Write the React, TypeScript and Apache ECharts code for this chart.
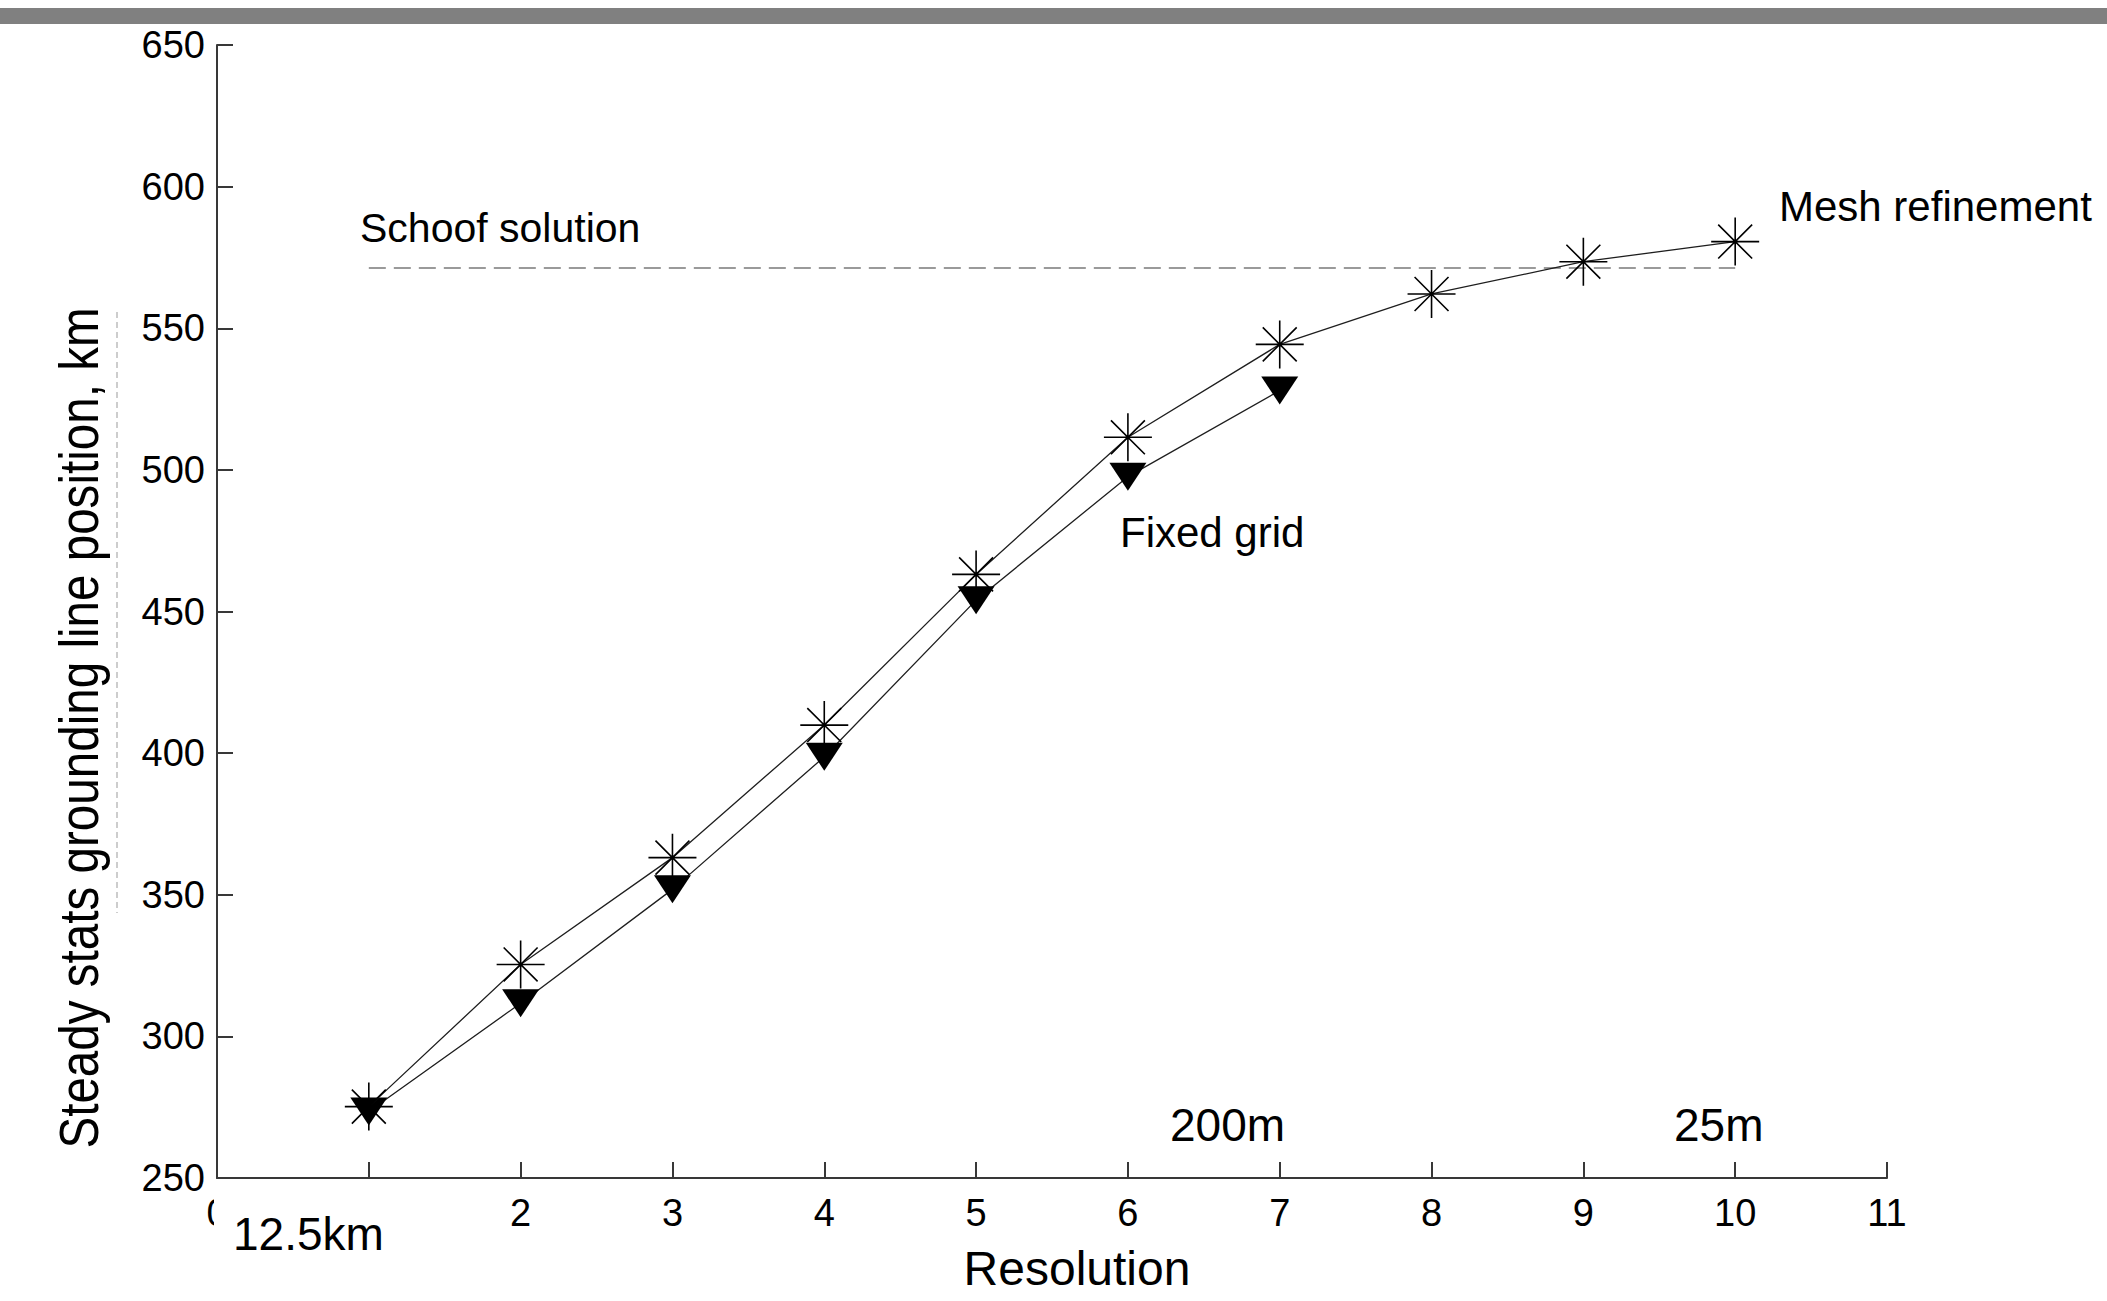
import React, { useEffect, useRef } from "react";
import * as echarts from "echarts";

// ---- data ----
const meshResolution = [1, 2, 3, 4, 5, 6, 7, 8, 9, 10];
const meshRefinement = [275.2, 325.4, 363.1, 409.9, 463.1, 511.5, 544.3, 562.1, 573.5, 580.6];
const fixedResolution = [1, 2, 3, 4, 5, 6, 7];
const fixedGrid = [273.5, 311.7, 351.9, 398.7, 454.0, 497.6, 528.0];
const schoofResolution = [1, 10];
const schoofValue = 571.3;

const xMin = 0;
const xMax = 11;
const xStep = 1;
const yMin = 250;
const yMax = 650;
const yStep = 50;

const texts = {
  yTitle: "Steady stats grounding line position, km",
  xTitle: "Resolution",
  schoof: "Schoof solution",
  mesh: "Mesh refinement",
  fixed: "Fixed grid",
  res1: "12.5km",
  res6: "200m",
  res10: "25m",
};

const FONT = '"Liberation Sans", Arial, Helvetica, sans-serif';
const STAR = "path://M0,-1L0,1M-1,0L1,0M-0.707,-0.707L0.707,0.707M-0.707,0.707L0.707,-0.707";
const TRI = "path://M0,0L2,0L1,1.5Z";

function label(text: string, x: number, y: number, size: number, align = "left", extra: any = {}, lineHeight?: number) {
  const style: any = {
    text,
    fontSize: size,
    fontFamily: FONT,
    fill: "#000",
    align,
    textAlign: align,
    verticalAlign: "middle",
    textVerticalAlign: "middle",
  };
  if (lineHeight) style.lineHeight = lineHeight;
  return { type: "text", x, y, z: 100, ...extra, style };
}

export default function App() {
  const ref = useRef<HTMLDivElement>(null);
  useEffect(() => {
    if (!ref.current) return;
    const chart = echarts.init(ref.current, undefined, { renderer: "svg" });
    const axisColor = "#383838";
    chart.setOption({
      animation: false,
      backgroundColor: "#fff",
      grid: { left: 217, right: 220, top: 45, bottom: 123, containLabel: false, outerBoundsMode: "none" },
      xAxis: {
        type: "value",
        min: xMin,
        max: xMax,
        interval: xStep,
        axisLine: { show: true, lineStyle: { color: axisColor, width: 2 } },
        axisTick: { show: true, inside: true, length: 16, lineStyle: { color: axisColor, width: 2 } },
        axisLabel: {
          margin: 16,
          fontSize: 38,
          fontFamily: FONT,
          color: "#000",
          formatter: (v: number) => (v === 1 ? "" : String(v)),
        },
        splitLine: { show: false },
      },
      yAxis: {
        type: "value",
        min: yMin,
        max: yMax,
        interval: yStep,
        axisLine: { show: true, lineStyle: { color: axisColor, width: 2 } },
        axisTick: { show: true, inside: true, length: 16, lineStyle: { color: axisColor, width: 2 } },
        axisLabel: { margin: 12, fontSize: 38, fontFamily: FONT, color: "#000" },
        splitLine: { show: false },
      },
      series: [
        {
          name: texts.schoof,
          type: "line",
          data: schoofResolution.map((x) => [x, schoofValue]),
          symbol: "none",
          silent: true,
          lineStyle: { color: "#9a9a9a", width: 2, type: [17, 8] },
          z: 1,
        },
        {
          name: texts.fixed,
          type: "line",
          data: fixedResolution.map((x, i) => [x, fixedGrid[i]]),
          symbol: TRI,
          symbolSize: [37, 28],
          showAllSymbol: true,
          lineStyle: { color: "#1e1e1e", width: 1.3 },
          itemStyle: { color: "#000", borderWidth: 0 },
          z: 2,
        },
        {
          name: texts.mesh,
          type: "line",
          data: meshResolution.map((x, i) => [x, meshRefinement[i]]),
          symbol: STAR,
          symbolSize: 48,
          showAllSymbol: true,
          lineStyle: { color: "#1e1e1e", width: 1.3 },
          itemStyle: { color: "#000", borderColor: "#000", borderWidth: 1.6 },
          z: 3,
        },
      ],
      graphic: [
        { type: "rect", z: 100, shape: { x: 0, y: 8, width: 2107, height: 16 }, style: { fill: "#808080" } },
        {
          type: "line",
          z: 100,
          shape: { x1: 117, y1: 312, x2: 117, y2: 913 },
          style: { stroke: "#bdbdbd", lineWidth: 1.5, lineDash: [6, 4] },
        },
        label(texts.yTitle, 79, 728, 56, "center", { rotation: Math.PI / 2, scaleX: 0.85 }),
        label(texts.xTitle, 1077, 1268, 48, "center", {}, 48),
        label(texts.schoof, 360, 228, 41),
        label(texts.mesh, 1779, 206, 42),
        label(texts.fixed, 1120, 532, 42),
        label(texts.res6, 1170, 1125, 46),
        label(texts.res10, 1674, 1125, 46),
        { type: "rect", z: 99, shape: { x: 214, y: 1193, width: 180, height: 64 }, style: { fill: "#fff" } },
        label(texts.res1, 233, 1234, 46),
      ],
    });
    return () => chart.dispose();
  }, []);
  return (
    <div
      ref={ref}
      style={{ position: "fixed", left: 0, top: 0, width: 2107, height: 1301, background: "#fff" }}
    />
  );
}
